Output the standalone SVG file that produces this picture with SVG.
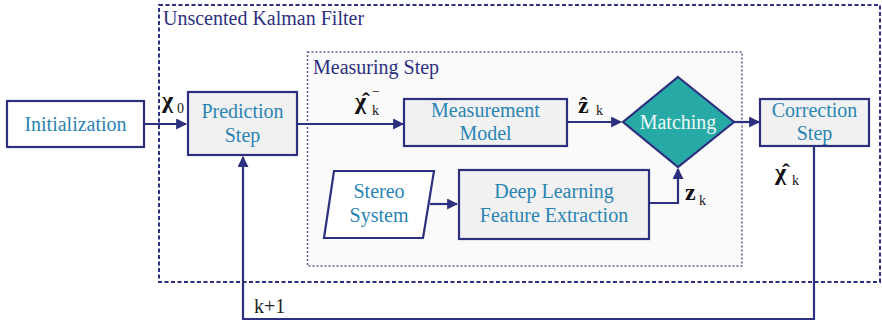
<svg xmlns="http://www.w3.org/2000/svg" width="882" height="324" viewBox="0 0 882 324">
<defs>
<style>
.box{fill:#f1f1f1;stroke:#2d2f7f;stroke-width:2.2}
.wbox{fill:#ffffff;stroke:#2d2f7f;stroke-width:2.2}
.nt{font-family:'Liberation Serif','Times New Roman',Tinos,'DejaVu Serif',serif;font-size:20px;fill:#2a84b3;text-anchor:middle}
.m{font-family:'Liberation Serif','Times New Roman',Tinos,'DejaVu Serif',serif;fill:#111;font-weight:bold;font-size:24px}
.s{font-family:'Liberation Serif','Times New Roman',Tinos,'DejaVu Serif',serif;fill:#111;font-size:14px}
.t{font-family:'Liberation Serif','Times New Roman',Tinos,'DejaVu Serif',serif}
.conn{fill:none;stroke:#2d2f7f;stroke-width:2.2}
</style>
<marker id="ah" viewBox="0 0 10 10" refX="9" refY="5" markerWidth="5" markerHeight="5" orient="auto" markerUnits="strokeWidth">
<path d="M0,0 L10,5 L0,10 z" fill="#2d2f7f"/>
</marker>
</defs>
<rect width="882" height="324" fill="#ffffff"/>

<g id="ukf">
<rect x="159" y="5" width="721" height="277" fill="none" stroke="#2d2f7f" stroke-width="2" stroke-dasharray="4 2.5"/>
<text class="t" x="163" y="25" font-size="20" fill="#2d2f7f">Unscented Kalman Filter</text>
</g>

<g id="measuring">
<rect x="307.5" y="52" width="434.5" height="214" fill="#fafafa" stroke="#5b6090" stroke-width="1.5" stroke-dasharray="2 2"/>
<text class="t" x="313" y="74" font-size="20" fill="#2d2f7f">Measuring Step</text>
</g>

<g id="connectors">
<path class="conn" d="M144,124 H186" marker-end="url(#ah)"/>
<path class="conn" d="M297,124 H403" marker-end="url(#ah)"/>
<path class="conn" d="M567,122 H621" marker-end="url(#ah)"/>
<path class="conn" d="M734,122 H759" marker-end="url(#ah)"/>
<path class="conn" d="M430,204 H457" marker-end="url(#ah)"/>
<path class="conn" d="M649,203 H678 V169" marker-end="url(#ah)"/>
<path class="conn" d="M814,146 V319 H243 V157" marker-end="url(#ah)"/>
</g>

<g id="initialization">
<rect class="wbox" x="7" y="101" width="137" height="46"/>
<text class="nt" x="75.5" y="131">Initialization</text>
</g>

<g id="prediction">
<rect class="box" x="188" y="92" width="109" height="63"/>
<text class="nt" x="242.5" y="118">Prediction</text>
<text class="nt" x="242.5" y="142">Step</text>
</g>

<g id="measurement">
<rect class="box" x="404" y="99" width="163" height="47"/>
<text class="nt" x="485.5" y="117">Measurement</text>
<text class="nt" x="485.5" y="140">Model</text>
</g>

<g id="matching">
<polygon points="678,77 734,122 678,167 623,122" fill="#27aaa5" stroke="#2d2f7f" stroke-width="2.2"/>
<text class="t" x="678" y="129" font-size="20" fill="#eef8f8" text-anchor="middle">Matching</text>
</g>

<g id="correction">
<rect class="box" x="760" y="99" width="109" height="47"/>
<text class="nt" x="814.5" y="117">Correction</text>
<text class="nt" x="814.5" y="140">Step</text>
</g>

<g id="stereo">
<polygon points="334,171 434,171 423,238 324,238" fill="#ffffff" stroke="#2d2f7f" stroke-width="2.2"/>
<text class="nt" x="379" y="198">Stereo</text>
<text class="nt" x="379" y="222">System</text>
</g>

<g id="deeplearning">
<rect class="box" x="459" y="170" width="190" height="69"/>
<text class="nt" x="554" y="198">Deep Learning</text>
<text class="nt" x="554" y="222">Feature Extraction</text>
</g>

<g id="labels">
<text class="m" x="162" y="108">χ</text>
<text class="s" x="177" y="113">0</text>
<text class="m" x="355" y="109">χ̂</text>
<text class="s" x="372" y="115">k</text>
<text class="s" x="372" y="96">−</text>
<text class="m" x="578" y="113" font-size="26">ẑ</text>
<text class="s" x="596" y="115">k</text>
<text class="m" x="775" y="180">χ̂</text>
<text class="s" x="792" y="185">k</text>
<text class="m" x="685" y="200" font-size="25">z</text>
<text class="s" x="699" y="205">k</text>
<text class="t" x="254" y="313" font-size="20" fill="#222">k+1</text>
</g>
</svg>
